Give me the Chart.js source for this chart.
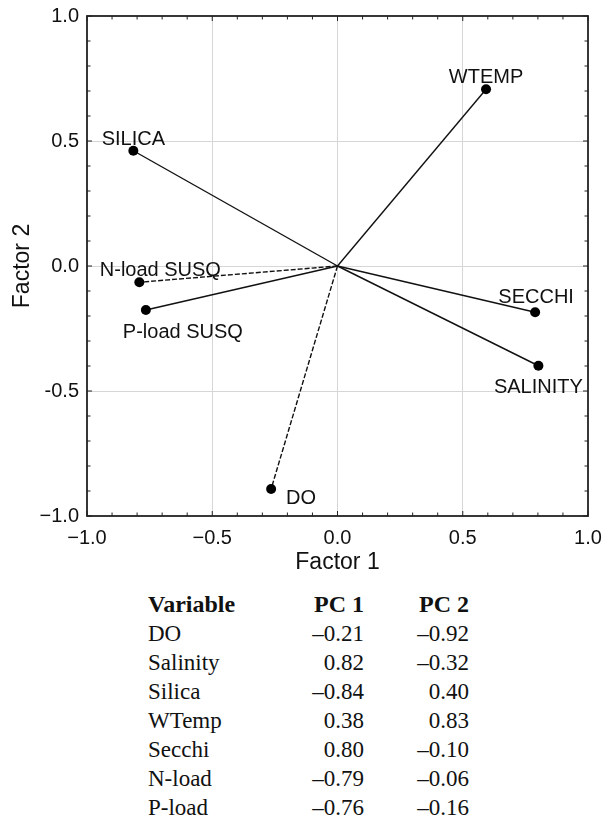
<!DOCTYPE html>
<html>
<head>
<meta charset="utf-8">
<script src="https://cdn.jsdelivr.net/npm/chart.js@4.4.1/dist/chart.umd.min.js"></script>
<style>
  body { margin: 0; background: #fff; width: 602px; height: 824px; position: relative; overflow: hidden; }
  #wrap { position: absolute; left: 0; top: 0; width: 602px; height: 580px; }
  .row { position: absolute; left: 0; width: 602px; height: 27px; line-height: 27px;
         font-family: "Liberation Serif", "Times New Roman", serif; font-size: 23px; color: #111; }
  .row span { position: absolute; top: 0; white-space: nowrap; }
  .row .v { left: 148px; }
  .row .c1 { right: 238px; text-align: right; }
  .row .c2 { right: 133px; text-align: right; }
  .row.head { font-weight: bold; font-size: 24px; }
</style>
</head>
<body>
<div id="wrap"><canvas id="chart1" width="602" height="580"></canvas></div>
<div id="table"></div>
<script>
// variables plotted as vectors from the origin
const names = ['DO', 'SALINITY', 'SILICA', 'WTEMP', 'SECCHI', 'N-load SUSQ', 'P-load SUSQ'];
const factor1 = [-0.265, 0.802, -0.815, 0.593, 0.789, -0.791, -0.765];
const factor2 = [-0.892, -0.399, 0.461, 0.707, -0.185, -0.065, -0.176];
const dashed = [true, false, false, false, false, true, false];

const xTickLabels = ['\u22121.0', '\u22120.5', '0.0', '0.5', '1.0'];
const yTickLabels = ['\u22121.0', '-0.5', '0.0', '0.5', '1.0'];

// loadings table under the chart
const tableVars = ['DO', 'Salinity', 'Silica', 'WTemp', 'Secchi', 'N-load', 'P-load'];
const pc1 = [-0.21, 0.82, -0.84, 0.38, 0.80, -0.79, -0.76];
const pc2 = [-0.92, -0.32, 0.40, 0.83, -0.10, -0.06, -0.16];

// label offsets from each point, in pixels
const labelOffsets = [[30, 9], [0, 22], [0, -11], [0, -12], [1, -15], [21, -12], [37, 22]];

document.addEventListener('DOMContentLoaded', function() {
    const datasets = names.map(function(n, i) {
        return {
            label: n,
            data: [{x: 0, y: 0}, {x: factor1[i], y: factor2[i]}],
            showLine: true,
            borderColor: '#111',
            borderWidth: 1.4,
            borderDash: dashed[i] ? [5, 2] : [],
            pointRadius: [0, 5],
            pointBackgroundColor: '#000',
            pointBorderWidth: 0
        };
    });

    // frame, inward ticks and point labels
    const decor = {
        id: 'decor',
        beforeDatasetsDraw(chart) {
            const c = chart.ctx, a = chart.chartArea;
            const xs = chart.scales.x, ys = chart.scales.y;
            c.save();
            c.strokeStyle = '#222';
            c.lineWidth = 1;
            for (let k = -10; k <= 10; k++) {
                const v = k / 10;
                const px = xs.getPixelForValue(v), py = ys.getPixelForValue(v);
                const len = (k % 5 === 0) ? 5 : 3.5;
                c.beginPath();
                c.moveTo(px, a.bottom); c.lineTo(px, a.bottom - len);
                c.moveTo(px, a.top); c.lineTo(px, a.top + len);
                c.moveTo(a.left, py); c.lineTo(a.left + len, py);
                c.moveTo(a.right, py); c.lineTo(a.right - len, py);
                c.stroke();
            }
            c.lineWidth = 1.8;
            c.strokeRect(a.left, a.top, a.right - a.left, a.bottom - a.top);
            c.restore();
        },
        afterDatasetsDraw(chart) {
            const c = chart.ctx;
            const xs = chart.scales.x, ys = chart.scales.y;
            c.save();
            c.font = '20px "Liberation Sans", Arial, sans-serif';
            c.fillStyle = '#111';
            c.textAlign = 'center';
            c.textBaseline = 'middle';
            names.forEach(function(n, i) {
                const px = xs.getPixelForValue(factor1[i]) + labelOffsets[i][0];
                const py = ys.getPixelForValue(factor2[i]) + labelOffsets[i][1];
                c.fillText(n, px, py);
            });
            c.restore();
        }
    };

    const gridColor = function(ctx) {
        const v = ctx.tick ? ctx.tick.value : 0;
        return Math.abs(v) > 0.99 ? 'rgba(0,0,0,0)' : '#d6d6d6';
    };

    const ctx = document.getElementById('chart1').getContext('2d');
    new Chart(ctx, {
        type: 'scatter',
        data: { datasets: datasets },
        plugins: [decor],
        options: {
            responsive: false,
            animation: false,
            layout: { padding: { top: 16, right: 14, left: 0, bottom: 0 } },
            plugins: { legend: { display: false }, tooltip: { enabled: false } },
            scales: {
                x: {
                    type: 'linear', min: -1, max: 1,
                    afterFit: function(s) { s.height = 64; s.paddingLeft = 0; s.paddingRight = 0; },
                    border: { display: false },
                    grid: { color: gridColor, lineWidth: 1, drawTicks: false },
                    ticks: {
                        stepSize: 0.5, padding: 10, color: '#111', maxRotation: 0,
                        font: { family: '"Liberation Sans", Arial, sans-serif', size: 20 },
                        callback: function(v, i) { return xTickLabels[i]; }
                    },
                    title: {
                        display: true, text: 'Factor 1', color: '#111',
                        font: { family: '"Liberation Sans", Arial, sans-serif', size: 23 },
                        padding: { top: 0, bottom: 4 }
                    }
                },
                y: {
                    type: 'linear', min: -1, max: 1,
                    afterFit: function(s) { s.width = 87; s.paddingTop = 0; s.paddingBottom = 0; },
                    border: { display: false },
                    grid: { color: gridColor, lineWidth: 1, drawTicks: false },
                    ticks: {
                        stepSize: 0.5, padding: 8, color: '#111',
                        font: { family: '"Liberation Sans", Arial, sans-serif', size: 20 },
                        callback: function(v, i) { return yTickLabels[i]; }
                    },
                    title: {
                        display: true, text: 'Factor 2', color: '#111',
                        font: { family: '"Liberation Sans", Arial, sans-serif', size: 23 },
                        padding: { top: 9, bottom: 0 }
                    }
                }
            }
        }
    });

    // build the loadings table
    const fmt = function(v) {
        const s = Math.abs(v).toFixed(2);
        return v < 0 ? '\u2013' + s : s;
    };
    const table = document.getElementById('table');
    const addRow = function(top, cls, a, b, c) {
        const r = document.createElement('div');
        r.className = 'row' + cls;
        r.style.top = top + 'px';
        r.innerHTML = '<span class="v"></span><span class="c1"></span><span class="c2"></span>';
        r.children[0].textContent = a;
        r.children[1].textContent = b;
        r.children[2].textContent = c;
        table.appendChild(r);
    };
    addRow(613 - 22, ' head', 'Variable', 'PC 1', 'PC 2');
    tableVars.forEach(function(n, i) {
        addRow(641 + 29 * i - 21, '', n, fmt(pc1[i]), fmt(pc2[i]));
    });
});
</script>
</body>
</html>
